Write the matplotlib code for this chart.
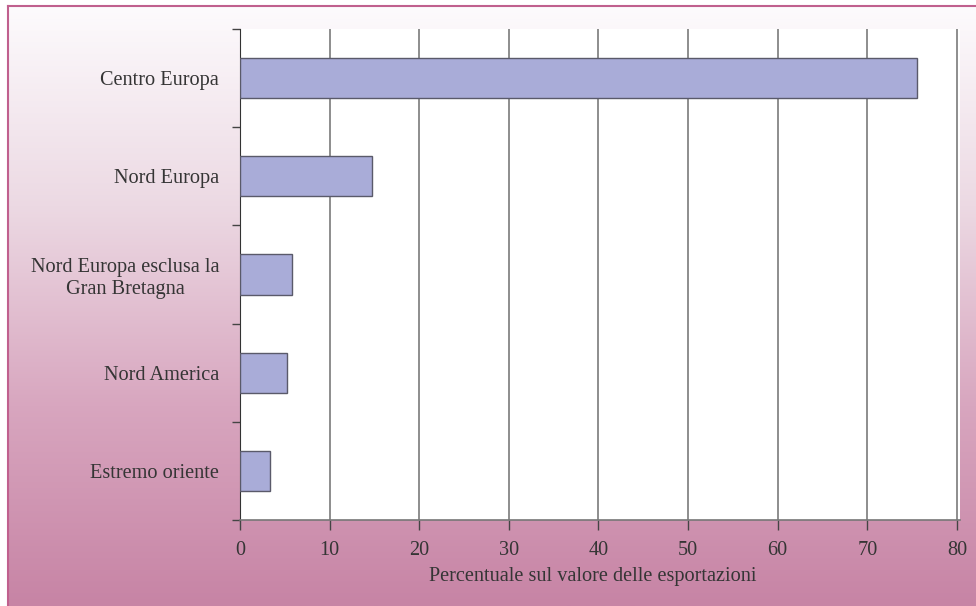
import numpy as np
import matplotlib.pyplot as plt
from matplotlib.colors import LinearSegmentedColormap

regions = ["Centro Europa", "Nord Europa", "Nord Europa esclusa la\nGran Bretagna",
           "Nord America", "Estremo oriente"]
share = [75.6, 14.7, 5.8, 5.2, 3.3]
xticks = [0, 10, 20, 30, 40, 50, 60, 70, 80]

plt.rcParams['font.family'] = ['Liberation Serif', 'DejaVu Serif']
txt = '#353535'
fs = 14.6

fig = plt.figure(figsize=(9.76, 6.06), dpi=100)
fig.patch.set_facecolor('white')

# background panel with a pale-to-mauve vertical gradient
bg = fig.add_axes([8/976, 0, 1 - 8/976, 1 - 6/606], zorder=0)
cmap = LinearSegmentedColormap.from_list('pink', ['#fdfbfd', '#ecd9e3', '#d8a6bf', '#c784a5'])
grad = np.linspace(0, 1, 256).reshape(-1, 1)
bg.imshow(grad, aspect='auto', cmap=cmap, extent=[0, 1, 0, 1], origin='upper')
bg.set_xlim(0, 1)
bg.set_ylim(0, 1)
for s in ['right', 'bottom']:
    bg.spines[s].set_visible(False)
for s in ['top', 'left']:
    bg.spines[s].set_color('#c0608e')
    bg.spines[s].set_linewidth(1.5)
bg.set_xticks([])
bg.set_yticks([])

ax = fig.add_axes([240/976, 1 - 520/606, 720/976, 491/606], zorder=1)
ax.set_facecolor('white')
y = np.arange(len(regions))
ax.barh(y, share, height=0.41, color='#a9acd8', edgecolor='#5a5a6a', linewidth=1.0, zorder=3)
ax.set_xlim(0, 80.35)
ax.set_ylim(len(regions) - 0.5, -0.5)

ax.set_xticks(xticks)
ax.set_xticklabels([str(t) for t in xticks], fontsize=fs, color=txt)
ax.xaxis.grid(True, color='#7a7a7a', linewidth=1.2, zorder=1)
ax.set_axisbelow(True)

ax.set_yticks(y)
ax.set_yticklabels(regions, fontsize=fs, color=txt, multialignment='center')
ax.set_yticks(np.arange(-0.5, len(regions)), minor=True)
ax.tick_params(axis='y', which='major', length=0, pad=15)
ax.tick_params(axis='y', which='minor', length=6, color='#444444', width=1)
ax.tick_params(axis='x', length=7, color='#444444', width=1, pad=8)

ax.spines['top'].set_visible(False)
ax.spines['right'].set_visible(False)
ax.spines['left'].set_color('#333333')
ax.spines['bottom'].set_color('#777777')
ax.spines['bottom'].set_linewidth(1.2)

ax.set_xlabel("Percentuale sul valore delle esportazioni", fontsize=fs, color=txt)
ax.xaxis.set_label_coords(0.49, -0.095)

fig.savefig('out.png', dpi=100)
